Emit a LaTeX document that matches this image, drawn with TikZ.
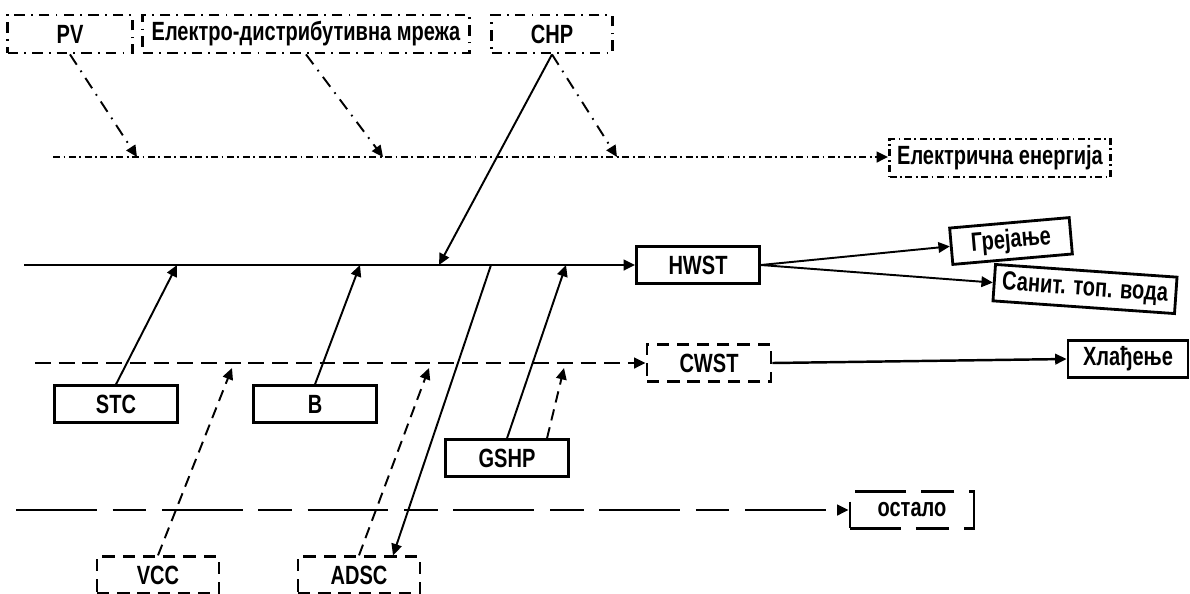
\documentclass[tikz,border=0pt]{standalone}
\usepackage{fontspec}
\setmainfont{Liberation Sans}[FakeStretch=0.76]
\usetikzlibrary{arrows.meta, calc}
\tikzset{
	box/.style={rectangle, draw, line width=1.6pt, inner sep=0pt, minimum height=0.73cm, align=center, font=\bfseries\fontsize{15}{17}\selectfont},
	dashbox/.style={box, dash pattern=on 7pt off 4.5pt},
	dotbox/.style={box, dash pattern=on 6pt off 3.5pt on 1pt off 3.5pt},
	finebox/.style={box, dash pattern=on 4pt off 2pt on 1pt off 2pt},
	longbox/.style={box, dash pattern=on 29pt off 8.5pt on 19pt off 8.5pt},
	tip/.style={-{Triangle[length=6.5pt, width=6pt]}},
	bus/.style={line width=1.4pt},
	link/.style={tip, line width=1.1pt},
	dotbus/.style={bus, dash pattern=on 4pt off 2pt on 1pt off 2pt},
	dashbus/.style={bus, dash pattern=on 9pt off 4.5pt},
	longbus/.style={bus, dash pattern=on 46pt off 9pt on 19pt off 9pt},
	dotlink/.style={link, dash pattern=on 7pt off 4pt on 1pt off 4pt},
	dashlink/.style={link, dash pattern=on 6.5pt off 4pt},
}
\begin{document}
\begin{tikzpicture}[x=0.02cm, y=-0.02cm]
	\useasboundingbox (0,0) rectangle (1190,593);
	% sources
	\node[dotbox, minimum width=2.5cm, minimum height=0.76cm] (pv) at (70,34) {PV};
	\node[dotbox, minimum width=6.54cm, minimum height=0.76cm] (ed) at (306,34) {Електро-дистрибутивна мрежа};
	\node[dotbox, minimum width=2.42cm, minimum height=0.76cm] (chp) at (552,34) {CHP};
	\node[box, minimum width=2.46cm] (stc) at (116,404) {STC};
	\node[box, minimum width=2.46cm] (b) at (315,404) {B};
	\node[box, minimum width=2.46cm] (gshp) at (507,458) {GSHP};
	\node[dashbox, minimum width=2.44cm] (vcc) at (158,575) {VCC};
	\node[dashbox, minimum width=2.44cm] (adsc) at (359,575) {ADSC};
	% storages and demands
	\node[finebox, minimum width=4.42cm, minimum height=0.76cm] (elen) at (1000,158) {Електрична енергија};
	\node[box, minimum width=2.46cm] (hwst) at (698,265) {HWST};
	\node[box, minimum width=2.4cm, rotate=5] (grej) at (1011,241) {Грејање};
	\node[box, minimum width=3.64cm, rotate=-4] (sanit) at (1085,289) {Санит. топ. вода};
	\node[dashbox, minimum width=2.48cm] (cwst) at (709,363) {CWST};
	\node[box, minimum width=2.4cm] (hlad) at (1128,359) {Хлађење};
	\node[longbox, minimum width=2.48cm] (ostalo) at (912,510) {остало};
	% buses
	\coordinate (el0) at (53,157);
	\coordinate (hw0) at (24,265);
	\coordinate (cw0) at (35,363);
	\coordinate (ot0) at (16,510);
	\draw[dotbus, tip] (el0) -- (elen.west |- el0);
	\draw[bus, tip] (hw0) -- (hwst.west);
	\draw[dashbus, tip] (cw0) -- (cwst.west);
	\draw[longbus, tip] (ot0) -- (ostalo.west);
	% junctions
	\coordinate (pvIn) at (137,157);
	\coordinate (edIn) at (383,157);
	\coordinate (chpIn) at (617,157);
	\coordinate (stcIn) at (177,265);
	\coordinate (bIn) at (360,265);
	\coordinate (chpHw) at (439,265);
	\coordinate (adscOut) at (491,265);
	\coordinate (gshpIn) at (566,265);
	\coordinate (vccIn) at (232,368);
	\coordinate (adscIn) at (429,368);
	\coordinate (gshpCw) at (564,368);
	% electricity
	\draw[dotlink] (pv.south) -- (pvIn);
	\draw[dotlink] (ed.south) -- (edIn);
	\draw[dotlink] (chp.south) -- (chpIn);
	% heat
	\draw[link] (chp.south) -- (chpHw);
	\draw[link] (stc.north) -- (stcIn);
	\draw[link] (b.north) -- (bIn);
	\draw[link] (gshp.north) -- (gshpIn);
	\draw[link] (adscOut) -- ($(adsc.north)+(34,0)$);
	\draw[link] (hwst.east) -- (grej.west);
	\draw[link] (hwst.east) -- (sanit.west);
	% cold
	\draw[dashlink] (vcc.north) -- (vccIn);
	\draw[dashlink] (adsc.north) -- (adscIn);
	\draw[dashlink] ($(gshp.north)+(40,0)$) -- (gshpCw);
	\draw[bus, tip] (cwst.east) -- (hlad.west);
\end{tikzpicture}
\end{document}
